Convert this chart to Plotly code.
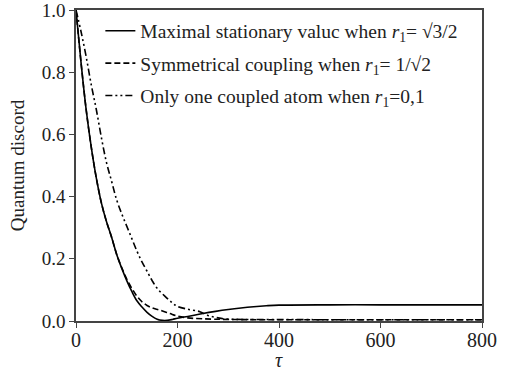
import plotly.graph_objects as go

# Data
tau_max = [0, 10, 20, 30, 40, 50, 60, 70, 80, 90, 100, 110, 120, 130, 140, 150, 160, 170, 180, 190, 200, 225, 250, 275, 300, 325, 350, 375, 400, 500, 600, 700, 800]
qd_max = [1.0, 0.83, 0.68, 0.56, 0.46, 0.38, 0.32, 0.27, 0.215, 0.17, 0.13, 0.095, 0.065, 0.045, 0.028, 0.015, 0.006, 0.002, 0.002, 0.005, 0.009, 0.016, 0.024, 0.031, 0.037, 0.042, 0.046, 0.049, 0.051, 0.052, 0.052, 0.052, 0.052]

tau_sym = [0, 10, 20, 30, 40, 50, 60, 70, 80, 90, 100, 110, 120, 130, 140, 150, 165, 185, 200, 220, 250, 300, 400, 500, 600, 700, 800]
qd_sym = [1.0, 0.83, 0.68, 0.56, 0.46, 0.38, 0.32, 0.27, 0.215, 0.172, 0.135, 0.105, 0.08, 0.062, 0.05, 0.042, 0.035, 0.024, 0.016, 0.01, 0.007, 0.005, 0.004, 0.004, 0.004, 0.004, 0.004]

tau_one = [0, 10, 20, 30, 40, 50, 60, 70, 80, 90, 100, 110, 120, 130, 140, 150, 160, 175, 190, 200, 220, 244, 260, 280, 300, 400, 500, 600, 700, 800]
qd_one = [1.0, 0.93, 0.85, 0.76, 0.68, 0.59, 0.51, 0.45, 0.39, 0.345, 0.305, 0.265, 0.225, 0.19, 0.16, 0.13, 0.105, 0.08, 0.058, 0.047, 0.038, 0.03, 0.018, 0.01, 0.006, 0.005, 0.004, 0.004, 0.004, 0.004]

names = [
    "Maximal stationary valuc when <i>r</i><sub>1</sub>= √3/2",
    "Symmetrical coupling when <i>r</i><sub>1</sub>= 1/√2",
    "Only one coupled atom when <i>r</i><sub>1</sub>=0,1",
]

x_ticks = [0, 200, 400, 600, 800]
y_ticks = [0.0, 0.2, 0.4, 0.6, 0.8, 1.0]
y_tick_labels = ["0.0", "0.2", "0.4", "0.6", "0.8", "1.0"]

FONT = "Times New Roman, Liberation Serif, DejaVu Serif, serif"
INK = "#222222"

fig = go.Figure()
fig.add_trace(go.Scatter(x=tau_max, y=qd_max, mode="lines", name=names[0],
                         line=dict(color="black", width=1.6, dash="solid", shape="spline"),
                         legendgroup="a"))
fig.add_trace(go.Scatter(x=tau_sym, y=qd_sym, mode="lines", name=names[1],
                         line=dict(color="black", width=1.6, dash="6px,3px", shape="spline"),
                         legendgroup="b"))
fig.add_trace(go.Scatter(x=tau_one, y=qd_one, mode="lines", name=names[2],
                         line=dict(color="black", width=1.6, dash="7px,3px,2px,3px,2px,3px", shape="spline"),
                         legendgroup="c"))

fig.update_layout(
    width=511, height=373,
    margin=dict(l=76, r=29, t=10, b=52, autoexpand=False),
    paper_bgcolor="white", plot_bgcolor="white",
    font=dict(family=FONT, size=19, color=INK),
    showlegend=True,
    legend=dict(x=0.06, y=0.995, xanchor="left", yanchor="top",
                bgcolor="rgba(0,0,0,0)", borderwidth=0,
                font=dict(family=FONT, size=19.5, color=INK),
                tracegroupgap=4, itemwidth=30),
    xaxis=dict(range=[0, 800], tickvals=x_ticks, ticks="outside", ticklen=5,
               tickcolor="#444", showline=True, linecolor="#444", linewidth=1.5,
               mirror=True, showgrid=False, zeroline=False, automargin=False,
               ticklabeloverflow="allow", ticklabelstandoff=-5,
               tickfont=dict(family=FONT, size=20, color=INK)),
    yaxis=dict(range=[0, 1.0], tickvals=y_ticks, ticktext=y_tick_labels, ticks="outside", ticklen=5,
               tickcolor="#444", showline=True, linecolor="#444", linewidth=1.5,
               mirror=True, showgrid=False, zeroline=False, automargin=False,
               ticklabeloverflow="allow",
               tickfont=dict(family=FONT, size=19, color=INK),
               title=dict(text="Quantum discord", standoff=12, font=dict(family=FONT, size=19, color=INK))),
    annotations=[dict(text="<i>τ</i>", x=0.5, y=0, xref="paper", yref="paper",
                      xanchor="center", yanchor="top", yshift=-26, showarrow=False,
                      font=dict(family=FONT, size=20, color=INK))],
)

fig.write_html("out.html", config={"displayModeBar": False},
               post_script="document.body.style.margin='0px';")
